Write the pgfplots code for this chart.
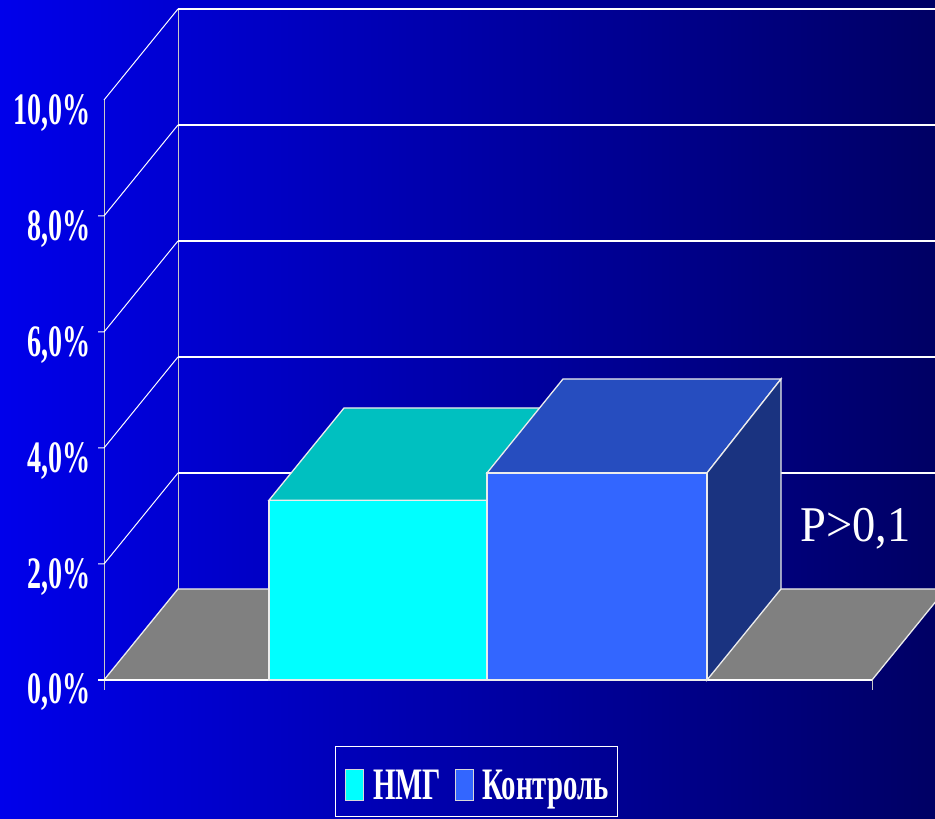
\documentclass[border=0pt]{standalone}
\usepackage{fontspec}
\setmainfont{Liberation Serif}
\usepackage{pgfplots}
\pgfplotsset{compat=1.18}
\definecolor{bgleft}{RGB}{0,0,235}
\definecolor{bgright}{RGB}{0,0,100}
\definecolor{floorgray}{RGB}{128,128,128}
\definecolor{nmgfront}{RGB}{0,255,255}
\definecolor{nmgtop}{RGB}{0,192,192}
\definecolor{ctrlfront}{RGB}{51,102,255}
\definecolor{ctrltop}{RGB}{38,77,191}
\definecolor{ctrlside}{RGB}{26,51,128}
\definecolor{wallline}{RGB}{200,200,200}
\newcommand{\ticklabel}[1]{\fontsize{45bp}{45bp}\selectfont\bfseries\scalebox{.625}[1]{#1}}
\newcommand{\legendlabel}[1]{\fontsize{45bp}{45bp}\selectfont\bfseries\scalebox{.64}[1]{#1}}
\begin{document}
\begin{tikzpicture}
\begin{axis}[
  scale only axis, width=935bp, height=819bp,
  xmin=0, xmax=935, ymin=-2.3966, ymax=11.7241,
  axis lines=none, ticks=none,
  every axis plot/.append style={line join=miter},
  grid3d/.style={draw=white, line width=1.5bp},
  side/.style={draw=white, line width=1bp},
  wall/.style={draw=wallline, line width=1bp},
  face/.style={draw=white!85!gray, line width=1.3bp},
]
% background gradient
\addplot[draw=none, left color=bgleft, right color=bgright]
  coordinates {(0,-2.3966) (935,-2.3966) (935,11.7241) (0,11.7241)} -- cycle;

% walls: vertical edges
\addplot[wall] coordinates {(104,-0.17) (104,10)};
\addplot[wall] coordinates {(178,1.57) (178,11.57)};

% receding side of each level
\addplot[side] coordinates {(98,2) (104,2) (178,3.57)};
\addplot[side] coordinates {(98,4) (104,4) (178,5.57)};
\addplot[side] coordinates {(98,6) (104,6) (178,7.57)};
\addplot[side] coordinates {(98,8) (104,8) (178,9.57)};
\addplot[side] coordinates {(104,10) (178,11.57)};

% gridlines on the back wall
\addplot[grid3d] coordinates {(178,3.57) (935,3.57)};
\addplot[grid3d] coordinates {(178,5.57) (935,5.57)};
\addplot[grid3d] coordinates {(178,7.57) (935,7.57)};
\addplot[grid3d] coordinates {(178,9.57) (935,9.57)};
\addplot[grid3d] coordinates {(178,11.57) (935,11.57)};

% floor
\addplot[face, fill=floorgray]
  coordinates {(104,0) (872,0) (946,1.57) (178,1.57)} -- cycle;
\addplot[grid3d] coordinates {(98,0) (872,0)};
\addplot[wall] coordinates {(872,0) (872,-0.17)};

% bar NMG, value 3.10
\addplot[face, fill=nmgtop]
  coordinates {(269,3.10) (487,3.10) (561,4.69) (344,4.69)} -- cycle;
\addplot[face, fill=nmgfront]
  coordinates {(269,0) (487,0) (487,3.10) (269,3.10)} -- cycle;

% bar Control, value 3.57
\addplot[face, fill=ctrltop]
  coordinates {(487,3.57) (707,3.57) (781,5.19) (563,5.19)} -- cycle;
\addplot[face, fill=ctrlside]
  coordinates {(707,0) (781,1.57) (781,5.19) (707,3.57)} -- cycle;
\addplot[face, fill=ctrlfront]
  coordinates {(487,0) (707,0) (707,3.57) (487,3.57)} -- cycle;

% value-axis labels
\node[anchor=base east, inner sep=0pt, text=white] at (axis cs:91,-0.41) {\ticklabel{0,0\%}};
\node[anchor=base east, inner sep=0pt, text=white] at (axis cs:91,1.57) {\ticklabel{2,0\%}};
\node[anchor=base east, inner sep=0pt, text=white] at (axis cs:91,3.57) {\ticklabel{4,0\%}};
\node[anchor=base east, inner sep=0pt, text=white] at (axis cs:91,5.57) {\ticklabel{6,0\%}};
\node[anchor=base east, inner sep=0pt, text=white] at (axis cs:91,7.57) {\ticklabel{8,0\%}};
\node[anchor=base east, inner sep=0pt, text=white] at (axis cs:91,9.57) {\ticklabel{10,0\%}};

% significance note
\node[anchor=base west, inner sep=0pt, text=white] at (axis cs:800,2.38)
  {\fontsize{50bp}{50bp}\selectfont\scalebox{.93}[1]{P>0,1}};

% legend
\addplot[draw=white, line width=1bp]
  coordinates {(335,-1.138) (617,-1.138) (617,-2.362) (335,-2.362)} -- cycle;
\addplot[draw=white!70!gray, line width=0.8bp, fill=nmgfront]
  coordinates {(345,-1.534) (363,-1.534) (363,-2.069) (345,-2.069)} -- cycle;
\addplot[draw=white!70!gray, line width=0.8bp, fill=ctrlfront]
  coordinates {(455,-1.534) (473,-1.534) (473,-2.069) (455,-2.069)} -- cycle;
\node[anchor=base west, inner sep=0pt, text=white] at (axis cs:373,-2.069) {\legendlabel{НМГ}};
\node[anchor=base west, inner sep=0pt, text=white] at (axis cs:482,-2.069) {\legendlabel{Контроль}};
\end{axis}
\end{tikzpicture}
\end{document}
